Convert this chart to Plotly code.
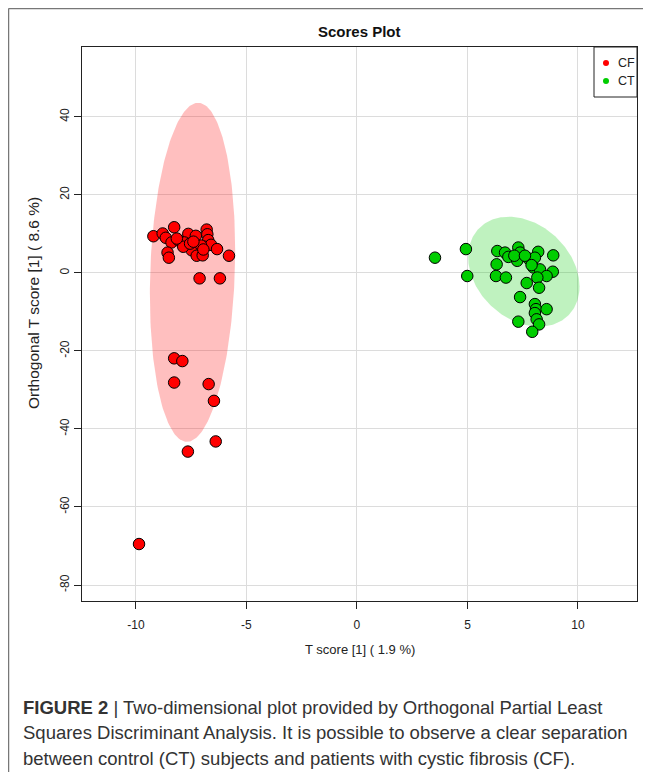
import numpy as np
import plotly.graph_objects as go

# ---------------- data ----------------
cf_x = [-9.21, -8.79, -8.65, -8.27, -8.39, -8.06, -8.57, -8.51, -7.63, -7.81,
        -7.29, -6.80, -6.77, -6.73, -7.48, -7.25, -6.98, -6.89, -6.60, -6.33,
        -5.79, -7.12, -6.20, -7.86, -7.55, -7.05, -8.15, -7.40, -6.95,
        -8.27, -7.90, -8.27, -6.71, -6.47, -6.39, -7.65, -9.86]
cf_y = [9.4, 10.1, 9.0, 11.7, 7.8, 8.3, 5.2, 3.9, 10.0, 7.8,
        9.5, 11.1, 9.9, 8.4, 5.8, 4.4, 4.5, 6.7, 7.2, 6.1,
        4.4, -1.4, -1.4, 6.7, 7.5, 7.0, 8.8, 8.0, 6.0,
        -21.9, -22.6, -28.1, -28.5, -32.8, -43.2, -45.8, -69.5]

ct_x = [3.53, 4.93, 4.99, 6.35, 6.70, 6.85, 6.32, 6.29, 6.74, 7.30,
        7.38, 7.25, 7.75, 8.20, 8.05, 7.98, 8.28, 8.88, 8.86, 8.58,
        8.16, 7.68, 8.24, 7.38, 8.05, 8.10, 8.05, 8.58, 8.13, 8.24,
        7.30, 7.93, 7.12, 7.60, 7.90]
ct_y = [3.9, 6.1, -0.8, 5.6, 5.2, 4.1, 2.2, -0.8, -1.2, 6.5,
        5.2, 3.1, 3.7, 5.4, 3.9, 1.4, 0.9, 4.5, 0.3, -0.8,
        -1.2, -2.6, -3.8, -6.2, -8.0, -9.3, -10.3, -9.3, -11.9, -13.2,
        -12.5, -15.1, 4.4, 4.4, 2.0]

groups = ["CF", "CT"]
group_colors = ["#FF0000", "#00CD00"]
x_ticks = [-10, -5, 0, 5, 10]
y_ticks = [40, 20, 0, -20, -40, -60, -80]

# confidence ellipses: centre x, centre y, half-width, half-height, correlation
ell_cf = dict(cx=-7.44, cy=0.15, a=1.93, b=43.45, rho=0.13)
ell_ct = dict(cx=7.55, cy=0.3, a=2.52, b=14.1, rho=-0.27)

# ---------------- figure ----------------
FONT = "Liberation Sans, Arial, Helvetica, sans-serif"
OFF = 8                      # page body margin in the browser
W, H = 651 - OFF, 772 - OFF
L, R, T, B = 82, 637, 47, 601  # plot box in page pixels


def ellipse(p, n=240):
    t = np.linspace(0, 2 * np.pi, n)
    phi = np.arccos(p["rho"])
    return p["cx"] + p["a"] * np.cos(t), p["cy"] + p["b"] * np.cos(t - phi)


fig = go.Figure()

for p, col in [(ell_cf, "rgba(255,0,0,0.25)"), (ell_ct, "rgba(0,205,0,0.25)")]:
    ex, ey = ellipse(p)
    fig.add_trace(go.Scatter(x=ex, y=ey, mode="lines", fill="toself",
                             fillcolor=col, line=dict(width=0),
                             hoverinfo="skip", showlegend=False))

for gx, gy, col in [(cf_x, cf_y, group_colors[0]), (ct_x, ct_y, group_colors[1])]:
    fig.add_trace(go.Scatter(x=gx, y=gy, mode="markers", showlegend=False,
                             marker=dict(size=11.5, color=col,
                                         line=dict(color="black", width=1))))

fig.update_layout(
    width=W, height=H,
    margin=dict(l=L - OFF, r=W - (R - OFF), t=T - OFF, b=H - (B - OFF)),
    paper_bgcolor="white", plot_bgcolor="white",
    font=dict(family=FONT, size=12, color="#222"),
    showlegend=False,
)

fig.update_xaxes(range=[-12.44, 12.67], tickvals=x_ticks,
                 ticktext=[str(v) for v in x_ticks],
                 showgrid=True, gridcolor="#dcdcdc", gridwidth=1,
                 zeroline=False, showline=True, mirror=True,
                 linecolor="#222", linewidth=1,
                 ticks="outside", ticklen=7, tickcolor="#222",
                 ticklabelstandoff=6,
                 tickfont=dict(family=FONT, size=12, color="#222"))
fig.update_yaxes(range=[-84.1, 57.9], tickvals=y_ticks,
                 ticktext=[str(v) for v in y_ticks],
                 showgrid=True, gridcolor="#dcdcdc", gridwidth=1,
                 zeroline=False, showline=True, mirror=True,
                 linecolor="#222", linewidth=1,
                 ticks="outside", ticklen=7, tickcolor="#222", tickangle=-90,
                 tickfont=dict(family=FONT, size=12, color="#222"))

PW, PH = R - L, B - T


def px(xp):
    return (xp - L) / PW


def py(yp):
    return (B - yp) / PH


def ann(text, x, y, size, **kw):
    fig.add_annotation(text=text, xref="paper", yref="paper",
                       x=px(x), y=py(y), showarrow=False,
                       yanchor="middle", font=dict(family=FONT, size=size,
                                                   color=kw.pop("color", "#222")),
                       **kw)


ann("<b>Scores Plot</b>", (L + R) / 2, 31, 15, xanchor="center", color="#111")
ann("T score [1] ( 1.9 %)", (L + R) / 2, 649, 13, xanchor="center")
ann("Orthogonal T score [1] ( 8.6 %)", 33, 303, 15.5, xanchor="center", textangle=-90)

# legend box (top-right)
fig.add_shape(type="rect", xref="paper", yref="paper",
              x0=px(594), x1=px(R), y0=py(97), y1=py(T),
              line=dict(color="#222", width=1), fillcolor="white")
for i, (g, col) in enumerate(zip(groups, group_colors)):
    yc = 63 + 18 * i
    fig.add_shape(type="circle", xref="paper", yref="paper",
                  x0=px(603), x1=px(609), y0=py(yc + 3), y1=py(yc - 3),
                  line=dict(width=0), fillcolor=col)
    ann(g, 616, yc, 12.5, xanchor="left")

caption = [
    "<b>FIGURE 2</b> | Two-dimensional plot provided by Orthogonal Partial Least",
    "Squares Discriminant Analysis. It is possible to observe a clear separation",
    "between control (CT) subjects and patients with cystic fibrosis (CF).",
]
for i, line in enumerate(caption):
    ann(line, 21, 707 + 25.5 * i, 18.5, xanchor="left", align="left", color="#333")

# page frame (left and top rules)
fig.add_shape(type="line", xref="paper", yref="paper",
              x0=px(8.5), x1=px(8.5), y0=py(8.5), y1=py(800),
              line=dict(color="#777", width=1.5))
fig.add_shape(type="line", xref="paper", yref="paper",
              x0=px(8.5), x1=px(700), y0=py(8.5), y1=py(8.5),
              line=dict(color="#777", width=1.5))

fig.write_html("out.html")
